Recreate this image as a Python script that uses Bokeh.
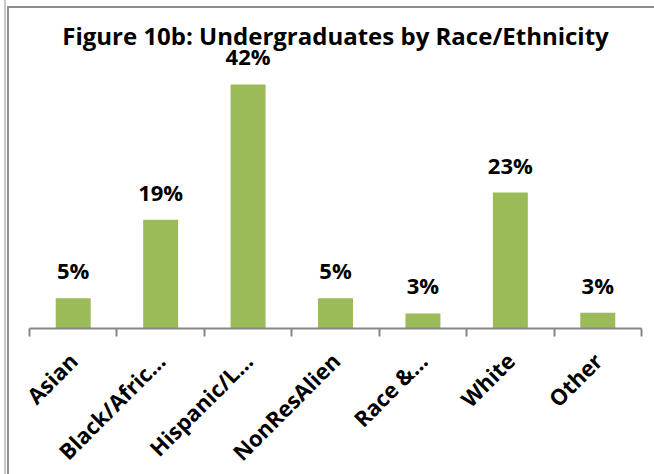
import math
from bokeh.plotting import figure
from bokeh.core.properties import value
from bokeh.models import (ColumnDataSource, LabelSet, Label, LinearAxis,
                          Range1d, FixedTicker)
from bokeh.embed import file_html
from bokeh.resources import INLINE

title_text = "Figure 10b: Undergraduates by Race/Ethnicity"
categories = ["Asian", "Black/Afric\u2026", "Hispanic/L\u2026", "NonResAlien", "Race &\u2026", "White", "Other"]
values = [5.2, 18.7, 42.0, 5.2, 2.6, 23.4, 2.7]
value_labels = ["5%", "19%", "42%", "5%", "3%", "23%", "3%"]

FONT = "Open Sans"
GREEN = "#9BBB59"
GRAY = "#868686"

n = len(categories)
centers = [i + 0.5 for i in range(n)]
src = ColumnDataSource(dict(x=centers, cat=categories, val=values, lab=value_labels))

p = figure(x_range=Range1d(0, n), y_range=Range1d(0, 55.08),
           frame_width=612, frame_height=320,
           min_border_left=29, min_border_right=13, min_border_top=8, min_border_bottom=146,
           x_axis_location=None, y_axis_location=None,
           output_backend="svg", toolbar_location=None, tools="")
p.outline_line_color = None
p.xgrid.grid_line_color = None
p.ygrid.grid_line_color = None
p.background_fill_color = "white"
p.border_fill_color = None
# chart border lines of the screenshot, painted behind the transparent canvas border
p.styles = {
    "background": ("linear-gradient(#8e8e8e, #8e8e8e) 7px 6px / 100% 2px no-repeat, "
                   "linear-gradient(#8e8e8e, #8e8e8e) 7px 6px / 2px 100% no-repeat, "
                   "linear-gradient(#c8c8c8, #c8c8c8) 4px 0px / 2px 100% no-repeat, "
                   "white"),
}

p.vbar(x="x", top="val", width=0.40, source=src, fill_color=GREEN, line_color=None)

# category axis: labels at centres, tick marks at category boundaries
xaxis = LinearAxis(ticker=FixedTicker(ticks=centers, minor_ticks=list(range(n + 1))),
                   major_label_overrides={c: name for c, name in zip(centers, categories)})
xaxis.axis_line_color = GRAY
xaxis.axis_line_width = 2
xaxis.major_tick_line_color = None
xaxis.major_tick_in = 0
xaxis.major_tick_out = 8
xaxis.minor_tick_line_color = GRAY
xaxis.minor_tick_line_width = 2
xaxis.minor_tick_in = 0
xaxis.minor_tick_out = 8
xaxis.major_label_orientation = math.pi / 4
xaxis.major_label_text_font = FONT
xaxis.major_label_text_font_style = "bold"
xaxis.major_label_text_font_size = "22px"
xaxis.major_label_text_color = "black"
xaxis.major_label_standoff = 20
p.add_layout(xaxis, "below")

labels = LabelSet(x="x", y="val", text="lab", source=src, y_offset=19,
                  text_align="center", text_baseline="alphabetic",
                  text_font=value(FONT), text_font_style="bold", text_font_size="22px",
                  text_color="black")
p.add_layout(labels)

title = Label(x=306, y=293, x_units="screen", y_units="screen", text=title_text,
              text_align="center", text_baseline="alphabetic",
              text_font=FONT, text_font_style="bold", text_font_size="24px",
              text_color="black")
p.add_layout(title)

open("out.html", "w").write(file_html(p, INLINE))
